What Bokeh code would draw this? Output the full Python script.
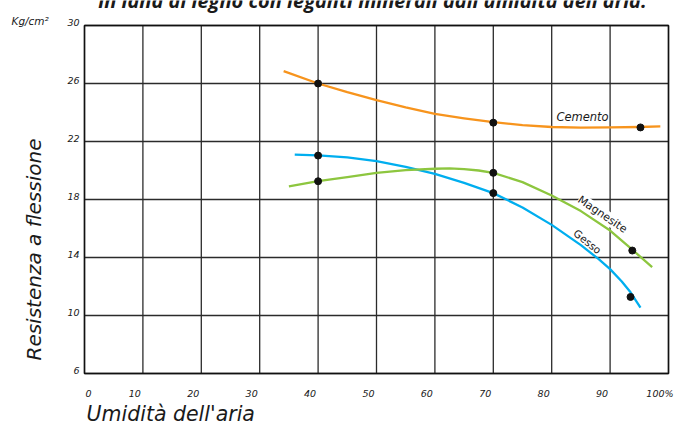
import math
from bokeh.plotting import figure
from bokeh.models import Range1d, Label
from bokeh.embed import file_html
from bokeh.resources import INLINE

# ---------------- data ----------------
x_ticks = [0, 10, 20, 30, 40, 50, 60, 70, 80, 90, 100]
x_tick_labels = ["0", "10", "20", "30", "40", "50", "60", "70", "80", "90", "100%"]
y_ticks = [6, 10, 14, 18, 22, 26, 30]
y_tick_labels = ["6", "10", "14", "18", "22", "26", "30"]

cemento_x = [34.1, 40, 45, 50, 55, 60, 65, 70, 75, 80, 85, 90, 95, 98.6]
cemento_y = [26.85, 26.0, 25.4, 24.85, 24.35, 23.9, 23.6, 23.33, 23.13, 23.0, 22.95, 22.97, 23.0, 23.05]
cemento_pts_x = [40, 70, 95.2]
cemento_pts_y = [26.0, 23.3, 22.97]

gesso_x = [36.0, 40, 45, 50, 55, 60, 65, 70, 75, 80, 85, 88, 90, 92, 93.5, 95.2]
gesso_y = [21.1, 21.05, 20.9, 20.64, 20.25, 19.77, 19.15, 18.44, 17.45, 16.25, 14.85, 13.9, 13.2, 12.35, 11.6, 10.55]
gesso_pts_x = [40, 70, 93.5]
gesso_pts_y = [21.03, 18.44, 11.28]

magnesite_x = [35.0, 40, 45, 50, 55, 60, 62.5, 65, 67.5, 70, 75, 80, 85, 90, 94, 97.2]
magnesite_y = [18.9, 19.26, 19.55, 19.84, 20.02, 20.12, 20.14, 20.1, 20.0, 19.84, 19.2, 18.28, 17.2, 15.86, 14.47, 13.33]
magnesite_pts_x = [40, 70, 93.8]
magnesite_pts_y = [19.26, 19.84, 14.48]

title_text = "in lana di legno con leganti minerali dall'umidità dell'aria."
x_title = "Umidità dell'aria"
y_title = "Resistenza a flessione"
unit_text = "Kg/cm²"

# ---------------- layout ----------------
W, H = 675, 424
# page pixels of the chart box (data 0..100 x 6..30)
L_PX, R_PX, T_PX, B_PX = 84, 668, 25, 373
X0, X1 = x_ticks[0], x_ticks[-1]
Y0, Y1 = y_ticks[0], y_ticks[-1]


def X(px):
    return X0 + (px - L_PX) / (R_PX - L_PX) * (X1 - X0)


def Y(py):
    return Y1 - (py - T_PX) / (B_PX - T_PX) * (Y1 - Y0)


dx = (X1 - X0) / (R_PX - L_PX)  # data units per pixel
dy = (Y1 - Y0) / (B_PX - T_PX)

FONT = "DejaVu Sans"
INK = "#1a1a1a"

p = figure(width=W, height=H, output_backend="svg", toolbar_location=None,
           x_range=Range1d(X(0), X(W)), y_range=Range1d(Y(H), Y(0)),
           x_axis_type=None, y_axis_type=None,
           min_border_left=0, min_border_right=0, min_border_top=0, min_border_bottom=0)
p.outline_line_color = None
p.background_fill_color = "white"
p.border_fill_color = "white"
p.grid.visible = False

# grid lines and box, drawn from the tick arrays
nx, ny = len(x_ticks), len(y_ticks)
p.segment(x0=x_ticks, y0=[Y0] * nx, x1=x_ticks, y1=[Y1] * nx, line_color="#2b2b2b", line_width=1.3)
p.segment(x0=[X0] * ny, y0=y_ticks, x1=[X1] * ny, y1=y_ticks, line_color="#2b2b2b", line_width=1.3)
p.quad(left=[X0], right=[X1], bottom=[Y0], top=[Y1], fill_color=None, line_color="#111111", line_width=1.5)

# curves
p.line(cemento_x, cemento_y, line_color="#F7941D", line_width=2.3, line_join="round")
p.line(gesso_x, gesso_y, line_color="#00AEEF", line_width=2.3, line_join="round")
p.line(magnesite_x, magnesite_y, line_color="#8DC63F", line_width=2.3, line_join="round")

# curve labels
p.add_layout(Label(x=X(582), y=Y(116), text="Cemento", text_align="center", text_baseline="middle",
                   text_font=FONT, text_font_style="italic", text_font_size="11.5px", text_color=INK))
p.add_layout(Label(x=X(602), y=Y(214), text="Magnesite", text_align="center", text_baseline="middle",
                   angle=-math.radians(34), text_font=FONT, text_font_size="11px", text_color=INK,
                   background_fill_color="white", background_fill_alpha=1.0))
p.add_layout(Label(x=X(587), y=Y(241), text="Gesso", text_align="center", text_baseline="middle",
                   angle=-math.radians(39), text_font=FONT, text_font_size="10.5px", text_color=INK))

# points
for xs, ys in ((cemento_pts_x, cemento_pts_y), (gesso_pts_x, gesso_pts_y), (magnesite_pts_x, magnesite_pts_y)):
    p.scatter(xs, ys, size=7, fill_color="#111111", line_color="#111111")

# tick labels
for v, t in zip(x_ticks, x_tick_labels):
    if v == X0:
        xpos, align = v + 1 * dx, "left"
    elif t.endswith("%"):
        xpos, align = v + 5 * dx, "right"
    else:
        xpos, align = v - 2 * dx, "right"
    p.add_layout(Label(x=xpos, y=Y(392.5), text=t, text_align=align, text_baseline="middle",
                       text_font=FONT, text_font_style="italic", text_font_size="9.5px", text_color=INK))
for v, t in zip(y_ticks, y_tick_labels):
    p.add_layout(Label(x=X0 - 5 * dx, y=v + 3.5 * dy, text=t, text_align="right", text_baseline="middle",
                       text_font=FONT, text_font_style="italic", text_font_size="9.5px", text_color=INK))

p.add_layout(Label(x=X(11), y=Y(20.5), text=unit_text, text_align="left", text_baseline="middle",
                   text_font=FONT, text_font_style="italic", text_font_size="10.5px", text_color=INK))

# axis titles
p.add_layout(Label(x=X(86), y=Y(413), text=x_title, text_align="left", text_baseline="middle",
                   text_font=FONT, text_font_style="italic", text_font_size="20.5px", text_color=INK))
p.add_layout(Label(x=X(33), y=Y(360), text=y_title, text_align="left", text_baseline="middle",
                   angle=math.pi / 2, text_font=FONT, text_font_style="italic", text_font_size="20px",
                   text_color=INK))

# chart title (cut off at the top in the reference)
p.add_layout(Label(x=X(372), y=Y(-0.5), text=title_text, text_align="center", text_baseline="middle",
                   text_font="Open Sans", text_font_style="bold italic", text_font_size="20px", text_color=INK))

open("out.html", "w").write(file_html(p, INLINE))
